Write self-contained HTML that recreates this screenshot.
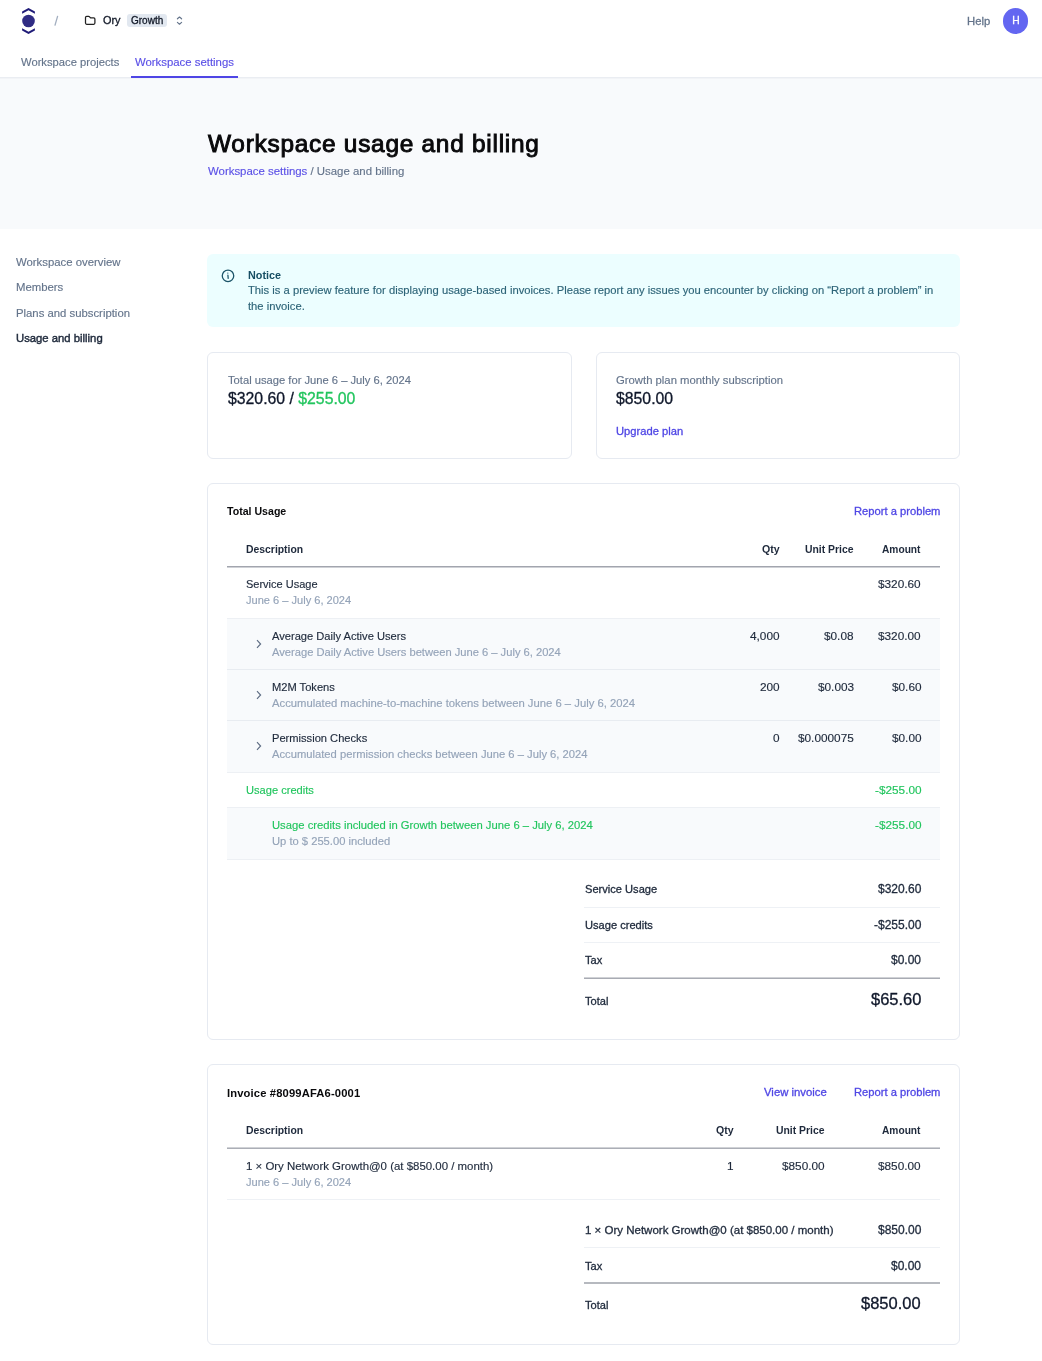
<!DOCTYPE html>
<html><head><meta charset="utf-8"><title>Workspace usage and billing</title>
<style>
html,body{margin:0;padding:0;background:#fff;width:1042px;height:1361px;overflow:hidden;position:relative}
body{font-family:"Liberation Sans",sans-serif}
.t{position:absolute;white-space:nowrap;line-height:1;will-change:transform}
.r{position:absolute}
.bm{display:inline-block;width:0;height:0}
.card{border:1px solid #e6eaf1;border-radius:6px;box-sizing:border-box;background:#fff}
</style></head><body>
<div class="r" style="left:0px;top:77px;width:1042px;height:1px;background:#eaedf2;"></div>
<div class="r" style="left:0px;top:78px;width:1042px;height:150.5px;background:#f8fafc;"></div>
<div class="r" style="left:0px;top:78px;width:1042px;height:1px;background:#f2f4f7;"></div>
<svg class="r" style="left:0;top:0" width="40" height="40" viewBox="0 0 40 40">
<circle cx="28.5" cy="21" r="6.3" fill="#302c84"/>
<polygon points="22.1,11.4 28.5,8.0 34.9,11.4 34.9,13.7 28.5,10.3 22.1,13.7" fill="#1f1b78"/>
<polygon points="22.1,28.3 28.5,31.7 34.9,28.3 34.9,30.6 28.5,34.0 22.1,30.6" fill="#1f1b78"/>
</svg>
<svg class="r" style="left:0;top:0" width="70" height="40" viewBox="0 0 70 40"><path d="M57.6 16.3 L55 25.2" stroke="#a3afc0" stroke-width="1.25" stroke-linecap="round"/></svg>
<svg class="r" style="left:0;top:0" width="100" height="40" viewBox="0 0 100 40">
<path d="M85.5 23.1 L85.5 17.6 Q85.5 16.4 86.7 16.4 L88.6 16.4 Q89.2 16.4 89.6 16.9 L90.2 17.5 Q90.6 17.9 91.2 17.9 L93.7 17.9 Q94.9 17.9 94.9 19.1 L94.9 23.1 Q94.9 24.3 93.7 24.3 L86.7 24.3 Q85.5 24.3 85.5 23.1 Z" fill="none" stroke="#222" stroke-width="1.25" stroke-linejoin="round"/>
</svg>
<div class="t" id="t1" style="top:14.91px;font-size:10.9px;color:#111827;-webkit-text-stroke:0.3px currentColor;left:103px;">Ory<span class="bm"></span></div>
<div class="r" style="left:127.4px;top:14.2px;width:39.19999999999999px;height:12.7px;background:#e2e8f0;border-radius:3px"></div>
<div class="t" id="t2" style="top:16.00px;font-size:10.0px;color:#111827;-webkit-text-stroke:0.3px currentColor;left:131px;">Growth<span class="bm"></span></div>
<svg class="r" style="left:0;top:0" width="200" height="40" viewBox="0 0 200 40">
<path d="M177.4 18.8 L179.5 17.0 L181.6 18.8" fill="none" stroke="#64748b" stroke-width="1.15" stroke-linecap="round" stroke-linejoin="round"/>
<path d="M177.4 22.4 L179.5 24.2 L181.6 22.4" fill="none" stroke="#64748b" stroke-width="1.15" stroke-linecap="round" stroke-linejoin="round"/>
</svg>
<div class="t" id="t3" style="top:16.01px;font-size:11.3px;color:#64748b;-webkit-text-stroke:0.3px currentColor;left:967px;">Help<span class="bm"></span></div>
<div class="r" style="left:1002.7px;top:8.1px;width:25.6px;height:25.6px;border-radius:50%;background:#6366f1"></div>
<div class="t" id="t4" style="top:16.21px;font-size:10.3px;color:#fff;-webkit-text-stroke:0.3px currentColor;left:1015.6px;transform:translateX(-50%);">H<span class="bm"></span></div>
<div class="t" id="t5" style="top:57.01px;font-size:11.23px;color:#64748b;-webkit-text-stroke:0.15px currentColor;left:20.6px;">Workspace projects<span class="bm"></span></div>
<div class="t" id="t6" style="top:57.00px;font-size:11.37px;color:#5b50e6;-webkit-text-stroke:0.15px currentColor;left:135.2px;">Workspace settings<span class="bm"></span></div>
<div class="r" style="left:131px;top:76.4px;width:107px;height:1.7999999999999972px;background:#4f46e5;"></div>
<div class="t" id="t7" style="top:132.40px;font-size:24.4px;color:#09090b;letter-spacing:0.75px;left:208px;-webkit-text-stroke:0.95px currentColor;">Workspace usage and billing<span class="bm"></span></div>
<div class="t" id="t8" style="top:165.50px;font-size:11.42px;color:#64748b;-webkit-text-stroke:0.15px currentColor;left:208px;"><span style="color:#5b50e6">Workspace settings</span> / Usage and billing<span class="bm"></span></div>
<div class="t" id="t9" style="top:256.81px;font-size:11.35px;color:#64748b;-webkit-text-stroke:0.15px currentColor;left:16px;">Workspace overview<span class="bm"></span></div>
<div class="t" id="t10" style="top:282.21px;font-size:11.35px;color:#64748b;-webkit-text-stroke:0.15px currentColor;left:16px;">Members<span class="bm"></span></div>
<div class="t" id="t11" style="top:307.91px;font-size:11.33px;color:#64748b;-webkit-text-stroke:0.15px currentColor;left:16px;">Plans and subscription<span class="bm"></span></div>
<div class="t" id="t12" style="top:333.21px;font-size:11.3px;color:#1e293b;-webkit-text-stroke:0.42px currentColor;left:16px;">Usage and billing<span class="bm"></span></div>
<div class="r" style="left:207px;top:254px;width:753px;height:72.5px;background:#ecfeff;border-radius:6px"></div>
<svg class="r" style="left:200px;top:250px" width="50" height="50" viewBox="200 250 50 50">
<circle cx="228" cy="275.8" r="5.75" fill="none" stroke="#1b5468" stroke-width="1.3"/>
<path d="M227.9 275.1 L228.2 278.4" stroke="#1b5468" stroke-width="1.25" stroke-linecap="round"/>
<circle cx="227.8" cy="273.1" r="0.7" fill="#1b5468" opacity="0.85"/>
</svg>
<div class="t" id="t13" style="top:269.61px;font-size:10.8px;color:#164e63;font-weight:700;left:248px;">Notice<span class="bm"></span></div>
<div class="t" id="t14" style="top:285.01px;font-size:11.23px;color:#2d6478;-webkit-text-stroke:0.15px currentColor;left:248px;">This is a preview feature for displaying usage-based invoices. Please report any issues you encounter by clicking on “Report a problem” in<span class="bm"></span></div>
<div class="t" id="t15" style="top:301.32px;font-size:11.23px;color:#2d6478;-webkit-text-stroke:0.15px currentColor;left:248px;">the invoice.<span class="bm"></span></div>
<div class="r card" style="left:207px;top:352px;width:365px;height:107px"></div>
<div class="r card" style="left:596px;top:352px;width:364px;height:107px"></div>
<div class="t" id="t16" style="top:375.00px;font-size:11.2px;color:#64748b;-webkit-text-stroke:0.15px currentColor;left:227.8px;">Total usage for June 6 – July 6, 2024<span class="bm"></span></div>
<div class="t" id="t17" style="top:390.90px;font-size:15.8px;color:#0f172a;-webkit-text-stroke:0.3px currentColor;left:227.8px;">$320.60 / <span style="color:#22c55e">$255.00</span><span class="bm"></span></div>
<div class="t" id="t18" style="top:375.01px;font-size:11.3px;color:#64748b;-webkit-text-stroke:0.15px currentColor;left:616px;">Growth plan monthly subscription<span class="bm"></span></div>
<div class="t" id="t19" style="top:390.90px;font-size:15.8px;color:#0f172a;-webkit-text-stroke:0.3px currentColor;left:616px;">$850.00<span class="bm"></span></div>
<div class="t" id="t20" style="top:425.60px;font-size:11.2px;color:#4f46e5;-webkit-text-stroke:0.3px currentColor;left:616px;">Upgrade plan<span class="bm"></span></div>
<div class="r card" style="left:207px;top:483px;width:753px;height:557px"></div>
<div class="t" id="t21" style="top:505.71px;font-size:10.6px;color:#09090b;font-weight:700;left:227.2px;">Total Usage<span class="bm"></span></div>
<div class="t" id="t22" style="top:505.91px;font-size:11.2px;color:#4f46e5;-webkit-text-stroke:0.3px currentColor;right:102.00px;">Report a problem<span class="bm"></span></div>
<div class="t" id="t23" style="top:544.70px;font-size:10.4px;color:#1e293b;font-weight:700;left:246.4px;">Description<span class="bm"></span></div>
<div class="t" id="t24" style="top:543.71px;font-size:10.6px;color:#1e293b;font-weight:700;right:262.80px;">Qty<span class="bm"></span></div>
<div class="t" id="t25" style="top:544.70px;font-size:10.4px;color:#1e293b;font-weight:700;right:188.90px;">Unit Price<span class="bm"></span></div>
<div class="t" id="t26" style="top:544.72px;font-size:10.2px;color:#1e293b;font-weight:700;right:121.60px;">Amount<span class="bm"></span></div>
<div class="r" style="left:227px;top:566px;width:713px;height:1px;background:#a2a5ae;"></div>
<div class="r" style="left:227px;top:567px;width:713px;height:1px;background:#cfd1d6;"></div>
<div class="t" id="t27" style="top:579.21px;font-size:11.0px;color:#1e293b;-webkit-text-stroke:0.15px currentColor;left:246.4px;">Service Usage<span class="bm"></span></div>
<div class="t" id="t28" style="top:595.00px;font-size:11.07px;color:#94a3b8;-webkit-text-stroke:0.15px currentColor;left:246.4px;">June 6 – July 6, 2024<span class="bm"></span></div>
<div class="t" id="t29" style="top:579.21px;font-size:11.8px;color:#1e293b;-webkit-text-stroke:0.15px currentColor;right:121.00px;">$320.60<span class="bm"></span></div>
<div class="r" style="left:227px;top:618px;width:713px;height:154.79999999999995px;background:#f8fafc;"></div>
<div class="r" style="left:227px;top:618px;width:713px;height:1px;background:#edf0f4;"></div>
<div class="r" style="left:227px;top:669px;width:713px;height:1px;background:#e8ecf1;"></div>
<div class="r" style="left:227px;top:720px;width:713px;height:1px;background:#e8ecf1;"></div>
<div class="r" style="left:227px;top:772px;width:713px;height:1px;background:#edf0f4;"></div>
<div class="t" id="t30" style="top:630.90px;font-size:11.13px;color:#1e293b;-webkit-text-stroke:0.15px currentColor;left:271.8px;">Average Daily Active Users<span class="bm"></span></div>
<div class="t" id="t31" style="top:647.01px;font-size:11.16px;color:#94a3b8;-webkit-text-stroke:0.15px currentColor;left:271.8px;">Average Daily Active Users between June 6 – July 6, 2024<span class="bm"></span></div>
<div class="t" id="t32" style="top:630.90px;font-size:11.8px;color:#1e293b;-webkit-text-stroke:0.15px currentColor;right:262.40px;">4,000<span class="bm"></span></div>
<div class="t" id="t33" style="top:630.90px;font-size:11.8px;color:#1e293b;-webkit-text-stroke:0.15px currentColor;right:188.40px;">$0.08<span class="bm"></span></div>
<div class="t" id="t34" style="top:630.90px;font-size:11.8px;color:#1e293b;-webkit-text-stroke:0.15px currentColor;right:120.90px;">$320.00<span class="bm"></span></div>
<svg class="r" style="left:254px;top:638.1px" width="10" height="12" viewBox="0 0 10 12">
<path d="M3 2.2 L6.6 6 L3 9.8" fill="none" stroke="#5d6c83" stroke-width="1.15"/></svg>
<div class="t" id="t35" style="top:682.00px;font-size:11.13px;color:#1e293b;-webkit-text-stroke:0.15px currentColor;left:271.8px;">M2M Tokens<span class="bm"></span></div>
<div class="t" id="t36" style="top:698.10px;font-size:11.29px;color:#94a3b8;-webkit-text-stroke:0.15px currentColor;left:271.8px;">Accumulated machine-to-machine tokens between June 6 – July 6, 2024<span class="bm"></span></div>
<div class="t" id="t37" style="top:682.01px;font-size:11.8px;color:#1e293b;-webkit-text-stroke:0.15px currentColor;right:262.40px;">200<span class="bm"></span></div>
<div class="t" id="t38" style="top:682.01px;font-size:11.8px;color:#1e293b;-webkit-text-stroke:0.15px currentColor;right:188.40px;">$0.003<span class="bm"></span></div>
<div class="t" id="t39" style="top:682.01px;font-size:11.8px;color:#1e293b;-webkit-text-stroke:0.15px currentColor;right:120.90px;">$0.60<span class="bm"></span></div>
<svg class="r" style="left:254px;top:689.2px" width="10" height="12" viewBox="0 0 10 12">
<path d="M3 2.2 L6.6 6 L3 9.8" fill="none" stroke="#5d6c83" stroke-width="1.15"/></svg>
<div class="t" id="t40" style="top:733.21px;font-size:11.13px;color:#1e293b;-webkit-text-stroke:0.15px currentColor;left:271.8px;">Permission Checks<span class="bm"></span></div>
<div class="t" id="t41" style="top:749.31px;font-size:11.22px;color:#94a3b8;-webkit-text-stroke:0.15px currentColor;left:271.8px;">Accumulated permission checks between June 6 – July 6, 2024<span class="bm"></span></div>
<div class="t" id="t42" style="top:733.21px;font-size:11.8px;color:#1e293b;-webkit-text-stroke:0.15px currentColor;right:262.40px;">0<span class="bm"></span></div>
<div class="t" id="t43" style="top:733.21px;font-size:11.8px;color:#1e293b;-webkit-text-stroke:0.15px currentColor;right:188.40px;">$0.000075<span class="bm"></span></div>
<div class="t" id="t44" style="top:733.21px;font-size:11.8px;color:#1e293b;-webkit-text-stroke:0.15px currentColor;right:120.90px;">$0.00<span class="bm"></span></div>
<svg class="r" style="left:254px;top:740.4px" width="10" height="12" viewBox="0 0 10 12">
<path d="M3 2.2 L6.6 6 L3 9.8" fill="none" stroke="#5d6c83" stroke-width="1.15"/></svg>
<div class="t" id="t45" style="top:784.70px;font-size:11.1px;color:#22c55e;-webkit-text-stroke:0.15px currentColor;left:246.0px;">Usage credits<span class="bm"></span></div>
<div class="t" id="t46" style="top:784.71px;font-size:11.8px;color:#22c55e;-webkit-text-stroke:0.15px currentColor;right:120.90px;">-$255.00<span class="bm"></span></div>
<div class="r" style="left:227px;top:806.5px;width:713px;height:53.0px;background:#f8fafc;"></div>
<div class="r" style="left:227px;top:806.5px;width:713px;height:1.0px;background:#edf0f4;"></div>
<div class="r" style="left:227px;top:858.5px;width:713px;height:1.0px;background:#edf0f4;"></div>
<div class="t" id="t47" style="top:820.21px;font-size:11.26px;color:#22c55e;-webkit-text-stroke:0.15px currentColor;left:271.8px;">Usage credits included in Growth between June 6 – July 6, 2024<span class="bm"></span></div>
<div class="t" id="t48" style="top:820.21px;font-size:11.8px;color:#22c55e;-webkit-text-stroke:0.15px currentColor;right:120.90px;">-$255.00<span class="bm"></span></div>
<div class="t" id="t49" style="top:836.00px;font-size:11.2px;color:#94a3b8;-webkit-text-stroke:0.15px currentColor;left:271.8px;">Up to $ 255.00 included<span class="bm"></span></div>
<div class="t" id="t50" style="top:884.41px;font-size:11.1px;color:#1e293b;-webkit-text-stroke:0.3px currentColor;left:584.8px;">Service Usage<span class="bm"></span></div>
<div class="t" id="t51" style="top:883.40px;font-size:12.0px;color:#1e293b;-webkit-text-stroke:0.3px currentColor;right:120.90px;">$320.60<span class="bm"></span></div>
<div class="r" style="left:583.5px;top:906.8px;width:356.5px;height:1.0px;background:#eef1f5;"></div>
<div class="t" id="t52" style="top:920.01px;font-size:11.1px;color:#1e293b;-webkit-text-stroke:0.3px currentColor;left:584.8px;">Usage credits<span class="bm"></span></div>
<div class="t" id="t53" style="top:919.01px;font-size:12.0px;color:#1e293b;-webkit-text-stroke:0.3px currentColor;right:120.90px;">-$255.00<span class="bm"></span></div>
<div class="r" style="left:583.5px;top:942px;width:356.5px;height:1px;background:#eef1f5;"></div>
<div class="t" id="t54" style="top:955.41px;font-size:11.1px;color:#1e293b;-webkit-text-stroke:0.3px currentColor;left:584.8px;">Tax<span class="bm"></span></div>
<div class="t" id="t55" style="top:954.40px;font-size:12.0px;color:#1e293b;-webkit-text-stroke:0.3px currentColor;right:120.90px;">$0.00<span class="bm"></span></div>
<div class="r" style="left:583.5px;top:977px;width:356.5px;height:1px;background:#d0d2d6;"></div>
<div class="r" style="left:583.5px;top:978px;width:356.5px;height:1px;background:#a8abb3;"></div>
<div class="t" id="t56" style="top:995.51px;font-size:11.1px;color:#1e293b;-webkit-text-stroke:0.3px currentColor;left:584.8px;">Total<span class="bm"></span></div>
<div class="t" id="t57" style="top:990.50px;font-size:16.5px;color:#0f172a;-webkit-text-stroke:0.3px currentColor;right:120.90px;">$65.60<span class="bm"></span></div>
<div class="r card" style="left:207px;top:1064px;width:753px;height:281px"></div>
<div class="t" id="t58" style="top:1087.50px;font-size:11.2px;color:#09090b;font-weight:700;letter-spacing:0.15px;left:227px;">Invoice #8099AFA6-0001<span class="bm"></span></div>
<div class="t" id="t59" style="top:1087.10px;font-size:11.35px;color:#4f46e5;-webkit-text-stroke:0.3px currentColor;right:214.80px;">View invoice<span class="bm"></span></div>
<div class="t" id="t60" style="top:1087.10px;font-size:11.2px;color:#4f46e5;-webkit-text-stroke:0.3px currentColor;right:101.60px;">Report a problem<span class="bm"></span></div>
<div class="t" id="t61" style="top:1126.20px;font-size:10.4px;color:#1e293b;font-weight:700;left:246.4px;">Description<span class="bm"></span></div>
<div class="t" id="t62" style="top:1125.21px;font-size:10.6px;color:#1e293b;font-weight:700;right:308.00px;">Qty<span class="bm"></span></div>
<div class="t" id="t63" style="top:1126.20px;font-size:10.4px;color:#1e293b;font-weight:700;right:217.50px;">Unit Price<span class="bm"></span></div>
<div class="t" id="t64" style="top:1126.22px;font-size:10.2px;color:#1e293b;font-weight:700;right:121.50px;">Amount<span class="bm"></span></div>
<div class="r" style="left:227px;top:1147px;width:713px;height:1px;background:#d0d2d6;"></div>
<div class="r" style="left:227px;top:1148px;width:713px;height:1px;background:#abaeb6;"></div>
<div class="t" id="t65" style="top:1160.61px;font-size:11.45px;color:#1e293b;-webkit-text-stroke:0.15px currentColor;left:246.4px;">1 × Ory Network Growth@0 (at $850.00 / month)<span class="bm"></span></div>
<div class="t" id="t66" style="top:1176.50px;font-size:11.07px;color:#94a3b8;-webkit-text-stroke:0.15px currentColor;left:246.4px;">June 6 – July 6, 2024<span class="bm"></span></div>
<div class="t" id="t67" style="top:1160.61px;font-size:11.8px;color:#1e293b;-webkit-text-stroke:0.15px currentColor;right:308.30px;">1<span class="bm"></span></div>
<div class="t" id="t68" style="top:1160.61px;font-size:11.8px;color:#1e293b;-webkit-text-stroke:0.15px currentColor;right:216.90px;">$850.00<span class="bm"></span></div>
<div class="t" id="t69" style="top:1160.61px;font-size:11.8px;color:#1e293b;-webkit-text-stroke:0.15px currentColor;right:120.90px;">$850.00<span class="bm"></span></div>
<div class="r" style="left:227px;top:1199px;width:713px;height:1px;background:#eef1f5;"></div>
<div class="t" id="t70" style="top:1225.00px;font-size:11.5px;color:#1e293b;-webkit-text-stroke:0.3px currentColor;left:585.4px;">1 × Ory Network Growth@0 (at $850.00 / month)<span class="bm"></span></div>
<div class="t" id="t71" style="top:1224.01px;font-size:12.0px;color:#1e293b;-webkit-text-stroke:0.3px currentColor;right:120.90px;">$850.00<span class="bm"></span></div>
<div class="r" style="left:583.5px;top:1247px;width:356.5px;height:1px;background:#eef1f5;"></div>
<div class="t" id="t72" style="top:1260.61px;font-size:11.1px;color:#1e293b;-webkit-text-stroke:0.3px currentColor;left:584.8px;">Tax<span class="bm"></span></div>
<div class="t" id="t73" style="top:1259.61px;font-size:12.0px;color:#1e293b;-webkit-text-stroke:0.3px currentColor;right:120.90px;">$0.00<span class="bm"></span></div>
<div class="r" style="left:583.5px;top:1282px;width:356.5px;height:2px;background:#b6b9bf;"></div>
<div class="t" id="t74" style="top:1300.20px;font-size:11.1px;color:#1e293b;-webkit-text-stroke:0.3px currentColor;left:584.8px;">Total<span class="bm"></span></div>
<div class="t" id="t75" style="top:1295.21px;font-size:16.5px;color:#0f172a;-webkit-text-stroke:0.3px currentColor;right:120.90px;">$850.00<span class="bm"></span></div>
</body></html>
